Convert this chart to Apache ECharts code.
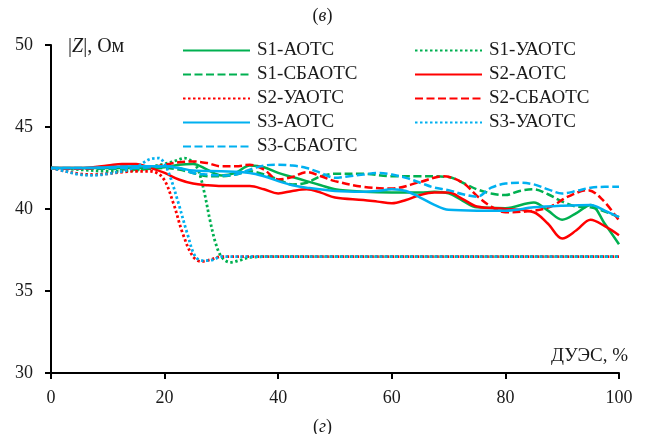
<!DOCTYPE html>
<html>
<head>
<meta charset="utf-8">
<script src="https://cdn.jsdelivr.net/npm/echarts@6/dist/echarts.min.js"></script>
<style>
  html, body { margin: 0; padding: 0; background: #fff; }
  #chart { width: 645px; height: 434px; }
</style>
</head>
<body>
<div id="chart"></div>
<script>
// Impedance |Z| (Ohm) versus ДУЭС (%), pairs of [x, |Z|]
const s1Aotc = [[0,42.5],[5,42.5],[10,42.5],[15,42.5],[20,42.55],[22.5,42.7],[25,42.75],[27.5,42.4],[30,42.05],[32.5,42.2],[35,42.65],[37.5,42.55],[40,42.2],[42.5,41.95],[45,41.7],[47.5,41.45],[50,41.2],[55,41.05],[60,41.0],[65,41.0],[67.5,41.05],[70,40.95],[72.5,40.5],[75,40.1],[80,40.05],[85,40.4],[87.5,39.9],[90,39.35],[92.5,39.75],[95,40.25],[97.5,39.1],[100,37.85]];
const s1Uaotc = [[0,42.5],[5,42.4],[10,42.3],[15,42.35],[18,42.6],[20,42.75],[22,42.95],[23.5,43.1],[25,42.85],[26,42.3],[27,41.0],[28,39.3],[29,37.9],[30,37.1],[31.5,36.75],[33.5,36.9],[35,37.05],[40,37.1],[50,37.1],[60,37.1],[70,37.1],[80,37.1],[90,37.1],[100,37.1]];
const s1Sbaotc = [[0,42.5],[5,42.45],[10,42.45],[15,42.4],[20,42.5],[22.5,42.4],[25,42.2],[27.5,42.0],[30,42.0],[32.5,42.1],[35,42.3],[37.5,42.1],[40,41.8],[42.5,41.5],[45,41.6],[47.5,42.0],[50,42.15],[55,42.15],[60,42.0],[65,42.0],[70,41.95],[72.5,41.6],[75,41.2],[77.5,40.95],[80,40.85],[82.5,41.1],[85,41.2],[87.5,40.9],[90,40.45],[92.5,40.15],[95,40.1],[97.5,39.85],[100,39.5]];
const s2Aotc = [[0,42.5],[5,42.5],[10,42.65],[12.5,42.75],[15,42.75],[17.5,42.5],[20,42.2],[22.5,41.8],[25,41.55],[27.5,41.45],[30,41.4],[35,41.4],[37.5,41.2],[40,40.95],[42.5,41.1],[45,41.2],[47.5,41.0],[50,40.7],[55,40.55],[57.5,40.45],[60,40.35],[62.5,40.55],[65,40.85],[67.5,41.0],[70,41.0],[72.5,40.6],[75,40.15],[80,40.0],[85,39.8],[87.5,39.1],[90,38.2],[92.5,38.7],[95,39.35],[97.5,38.95],[100,38.4]];
const s2Uaotc = [[0,42.5],[2.5,42.3],[5,42.15],[7.5,42.1],[10,42.15],[12.5,42.25],[15,42.3],[17.5,42.3],[19.7,41.9],[21.5,40.4],[23.2,38.5],[25,37.1],[26.5,36.8],[28,36.9],[30,37.1],[35,37.1],[40,37.1],[50,37.1],[60,37.1],[70,37.1],[80,37.1],[90,37.1],[100,37.1]];
const s2Sbaotc = [[0,42.5],[5,42.45],[10,42.55],[15,42.6],[18,42.6],[20,42.7],[22.5,42.85],[25,42.9],[27.5,42.8],[30,42.6],[32.5,42.6],[35,42.7],[37.5,42.4],[40,41.8],[42.5,41.95],[45,42.25],[47.5,42.0],[50,41.7],[55,41.35],[60,41.25],[65,41.65],[69,42.0],[72.5,41.6],[75,40.8],[77.5,40.15],[80,39.8],[85,39.9],[88,40.15],[91,40.75],[94.5,41.15],[97,40.6],[100,39.3]];
const s3Aotc = [[0,42.5],[5,42.5],[10,42.55],[15,42.6],[20,42.6],[22.5,42.5],[25,42.35],[30,42.3],[35,42.2],[37.5,42.0],[40,41.7],[42.5,41.45],[45,41.3],[50,41.1],[55,41.05],[57.5,41.1],[60,41.2],[62.5,41.1],[65,40.7],[67.5,40.25],[70,39.95],[75,39.9],[80,39.9],[85,40.1],[90,40.2],[95,40.25],[97.5,39.9],[100,39.5]];
const s3Uaotc = [[0,42.5],[2.5,42.3],[5,42.1],[7.5,42.05],[10,42.15],[12.5,42.3],[15,42.55],[17.5,43.05],[19,43.1],[20,42.75],[21,41.95],[22.4,40.4],[24,38.5],[25.4,37.1],[26.8,36.85],[28.5,36.9],[30,37.1],[35,37.1],[40,37.1],[50,37.1],[60,37.1],[70,37.1],[80,37.1],[90,37.1],[100,37.1]];
const s3Sbaotc = [[0,42.5],[5,42.5],[10,42.5],[15,42.5],[20,42.6],[22.5,42.5],[25,42.2],[27.5,42.1],[30,42.05],[32.5,42.1],[35,42.4],[37.5,42.65],[40,42.7],[42.5,42.65],[45,42.5],[47.5,42.2],[50,41.9],[52.5,42.0],[55,42.1],[57.5,42.2],[60,42.1],[62.5,41.9],[65,41.6],[67.5,41.3],[70,41.15],[72.5,40.9],[75,40.75],[77.5,41.3],[80,41.55],[82.5,41.6],[85,41.5],[87.5,41.2],[90,40.95],[92.5,41.1],[95,41.3],[97.5,41.35],[100,41.35]];

const xTicks = [0, 20, 40, 60, 80, 100];
const yTicks = [30, 35, 40, 45, 50];

const GREEN = '#00B050', RED = '#FF0000', BLUE = '#00B0F0';
const SOLID = 'solid', DASH = [8, 3.5], DOT = [2.5, 2.5];
const FONT = 'Liberation Serif';
const TXT = '#1a1a1a';

const seriesDefs = [
  { name: 'S1-АОТС', data: s1Aotc, color: GREEN, type: SOLID },
  { name: 'S1-УАОТС', data: s1Uaotc, color: GREEN, type: DOT },
  { name: 'S1-СБАОТС', data: s1Sbaotc, color: GREEN, type: DASH },
  { name: 'S2-АОТС', data: s2Aotc, color: RED, type: SOLID },
  { name: 'S2-УАОТС', data: s2Uaotc, color: RED, type: DOT },
  { name: 'S2-СБАОТС', data: s2Sbaotc, color: RED, type: DASH },
  { name: 'S3-АОТС', data: s3Aotc, color: BLUE, type: SOLID },
  { name: 'S3-УАОТС', data: s3Uaotc, color: BLUE, type: DOT },
  { name: 'S3-СБАОТС', data: s3Sbaotc, color: BLUE, type: DASH }
];

const legendBase = {
  orient: 'vertical',
  top: 36,
  itemWidth: 67,
  itemHeight: 20,
  itemGap: 5,
  itemStyle: { opacity: 0 },
  textStyle: { fontFamily: FONT, fontSize: 19, color: TXT, padding: [0, 0, 0, 2] },
  selectedMode: false
};

function richText(size) {
  return {
    fontWeight: 'normal',
    rich: {
      n: { fontFamily: FONT, fontSize: size, fontWeight: 'normal', color: TXT },
      i: { fontFamily: FONT, fontSize: size, fontWeight: 'normal', fontStyle: 'italic', color: TXT }
    }
  };
}

const chart = echarts.init(document.getElementById('chart'), null, { renderer: 'canvas' });
chart.setOption({
  animation: false,
  backgroundColor: '#fff',
  grid: { left: 51, right: 26, top: 45, bottom: 61, containLabel: false },
  title: [
    { text: '{n|(}{i|в}{n|)}', left: 'center', top: 2, textStyle: richText(18) },
    { text: '{n|(}{i|г}{n|)}', left: 'center', top: 413, textStyle: richText(18) },
    { text: '{n||}{i|Z}{n||, Ом}', left: 63, top: 32, textStyle: richText(20) },
    {
      text: 'ДУЭС, %', right: 12, top: 342,
      textStyle: { fontFamily: FONT, fontSize: 19, fontWeight: 'normal', color: TXT }
    }
  ],
  legend: [
    Object.assign({}, legendBase, { left: 177, data: ['S1-АОТС', 'S1-СБАОТС', 'S2-УАОТС', 'S3-АОТС', 'S3-СБАОТС'] }),
    Object.assign({}, legendBase, { left: 409, data: ['S1-УАОТС', 'S2-АОТС', 'S2-СБАОТС', 'S3-УАОТС'] })
  ],
  xAxis: {
    type: 'value', min: xTicks[0], max: xTicks[xTicks.length - 1], interval: 20,
    axisLine: { show: true, lineStyle: { color: '#000', width: 2 } },
    axisTick: { show: true, length: 6, lineStyle: { color: '#000', width: 2 } },
    axisLabel: { fontFamily: FONT, fontSize: 18, color: TXT, margin: 16 },
    splitLine: { show: false }
  },
  yAxis: {
    type: 'value', min: yTicks[0], max: yTicks[yTicks.length - 1], interval: 5,
    axisLine: { show: true, lineStyle: { color: '#000', width: 2 } },
    axisTick: { show: true, length: 6, lineStyle: { color: '#000', width: 2 } },
    axisLabel: { fontFamily: FONT, fontSize: 18, color: TXT, margin: 18 },
    splitLine: { show: false }
  },
  series: seriesDefs.map(d => ({
    name: d.name,
    type: 'line',
    data: d.data,
    symbol: 'none',
    smooth: 0.35,
    color: d.color,
    lineStyle: { color: d.color, width: d.type === DOT ? 2.8 : 2.5, type: d.type, cap: 'butt' }
  }))
});
</script>
</body>
</html>
